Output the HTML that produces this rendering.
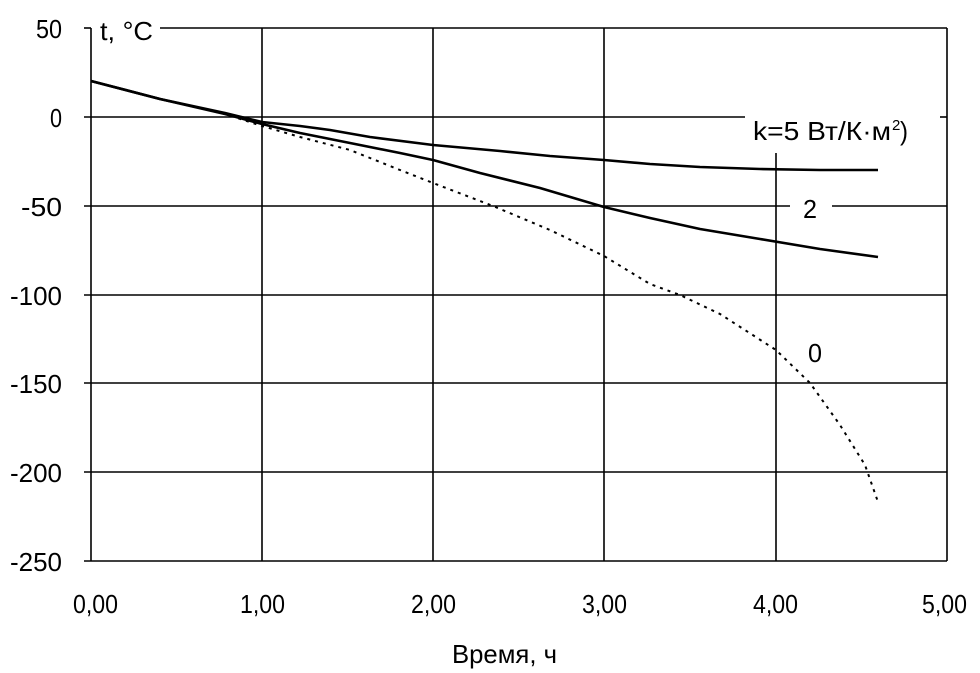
<!DOCTYPE html>
<html><head><meta charset="utf-8"><style>
body{margin:0;background:#fff;}
svg{display:block;}
text{font-family:"Liberation Sans",sans-serif;fill:#000;}
</style></head><body>
<svg width="980" height="673" viewBox="0 0 980 673" xmlns="http://www.w3.org/2000/svg">
<g stroke="#000" stroke-width="1.6" fill="none">
<line x1="160" y1="28" x2="947" y2="28"/>
<line x1="84" y1="117" x2="745" y2="117"/>
<line x1="940" y1="117" x2="947" y2="117"/>
<line x1="84" y1="206" x2="790" y2="206"/>
<line x1="832" y1="206" x2="947" y2="206"/>
<line x1="84" y1="295" x2="947" y2="295"/>
<line x1="84" y1="383" x2="947" y2="383"/>
<line x1="84" y1="472" x2="947" y2="472"/>
<line x1="84" y1="561" x2="947" y2="561"/>
<line x1="84" y1="28" x2="91" y2="28"/>
<line x1="91" y1="28" x2="91" y2="561"/>
<line x1="262" y1="28" x2="262" y2="561"/>
<line x1="433" y1="28" x2="433" y2="561"/>
<line x1="604" y1="28" x2="604" y2="561"/>
<line x1="776" y1="153" x2="776" y2="561"/>
<line x1="947" y1="28" x2="947" y2="561"/>
</g>
<g stroke="#000" fill="none" stroke-linejoin="round">
<polyline stroke-width="2.6" points="91,81 160,99 225,113 262,122 300,126 330,130 370,137 433,145 500,151 550,156 604,160 650,164 700,167 760,169 820,170 878,170"/>
<polyline stroke-width="2.6" points="91,81 160,99 225,114 262,124 300,133 350,143 400,153 433,160 480,173 540,188 604,207 650,218 700,229 760,239 820,249 878,257"/>
<polyline stroke-width="2" stroke-dasharray="3,5" points="91,81 160,99 225,114 262,126 300,137 350,150 400,170 433,183 493,206 550,230 604,256 650,284 680,295 720,314 776,350 810,383 840,425 865,465 878,502"/>
</g>
<g font-size="26" lengthAdjust="spacingAndGlyphs">
<text x="100" y="40" textLength="53" lengthAdjust="spacingAndGlyphs">t, °C</text>
<text x="36" y="38" textLength="26" lengthAdjust="spacingAndGlyphs">50</text>
<text x="50" y="127" textLength="12" lengthAdjust="spacingAndGlyphs">0</text>
<text x="21" y="216" textLength="41" lengthAdjust="spacingAndGlyphs">-50</text>
<text x="10" y="305" textLength="52" lengthAdjust="spacingAndGlyphs">-100</text>
<text x="10" y="393" textLength="52" lengthAdjust="spacingAndGlyphs">-150</text>
<text x="10" y="482" textLength="52" lengthAdjust="spacingAndGlyphs">-200</text>
<text x="10" y="571" textLength="52" lengthAdjust="spacingAndGlyphs">-250</text>
<text x="73" y="613" textLength="45" lengthAdjust="spacingAndGlyphs">0,00</text>
<text x="240" y="613" textLength="45" lengthAdjust="spacingAndGlyphs">1,00</text>
<text x="411" y="613" textLength="45" lengthAdjust="spacingAndGlyphs">2,00</text>
<text x="582" y="613" textLength="45" lengthAdjust="spacingAndGlyphs">3,00</text>
<text x="753" y="613" textLength="45" lengthAdjust="spacingAndGlyphs">4,00</text>
<text x="922" y="613" textLength="45" lengthAdjust="spacingAndGlyphs">5,00</text>
<text x="452" y="663" textLength="105" lengthAdjust="spacingAndGlyphs">Время, ч</text>
<text x="753" y="140" textLength="138" lengthAdjust="spacingAndGlyphs">k=5 Вт/К·м</text>
<text x="892" y="130" font-size="15">2</text>
<text x="900" y="140" textLength="8" lengthAdjust="spacingAndGlyphs">)</text>
<text x="803" y="218" textLength="14" lengthAdjust="spacingAndGlyphs">2</text>
<text x="808" y="362" textLength="14" lengthAdjust="spacingAndGlyphs">0</text>
</g>
</svg>
</body></html>
